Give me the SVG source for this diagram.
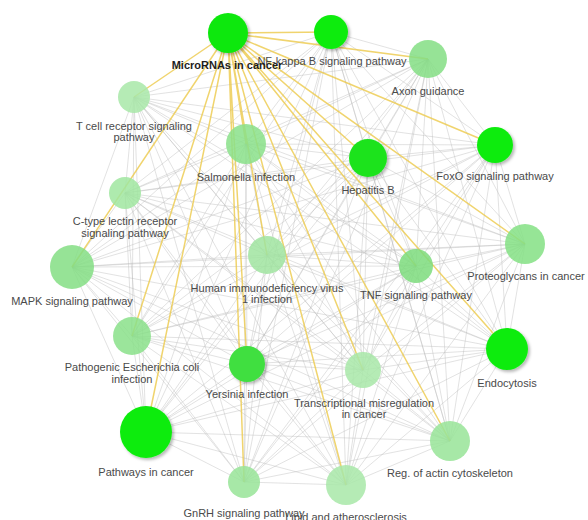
<svg xmlns="http://www.w3.org/2000/svg" width="588" height="520" viewBox="0 0 588 520">
<defs>
<filter id="sh" x="-30%" y="-30%" width="170%" height="170%"><feDropShadow dx="2" dy="2" stdDeviation="1.6" flood-color="#000" flood-opacity="0.28"/></filter>
</defs>
<style>
.g{fill:none;stroke:#bdbdbd;stroke-width:0.8;stroke-opacity:0.55}
.y{fill:none;stroke:#ecc94a;stroke-width:1.5;stroke-opacity:0.8}
.n{fill-opacity:0.85}
.b{filter:url(#sh)}
text{font-family:"Liberation Sans",Arial,sans-serif;font-size:11px;fill:#4a4a4a;text-anchor:middle}
.t{font-weight:bold;fill:#1e1e1e}
</style>
<rect width="588" height="520" fill="#fff"/>
<g id="connectors">
<path class="g" d="M331 32L428 59M331 32L134 97M331 32L246 144M331 32L368 158M331 32L495 145M331 32L125 193M331 32L72 267M331 32L267 255M331 32L416 266M331 32L525 244M331 32L132 336M331 32L247 364M331 32L363 370M331 32L507 349M331 32L146 432M331 32L450 441M331 32L244 482M331 32L346 485"/>
<path class="g" d="M428 59L134 97M428 59L246 144M428 59L368 158M428 59L495 145M428 59L125 193M428 59L72 267M428 59L267 255M428 59L416 266M428 59L525 244M428 59L132 336M428 59L247 364M428 59L363 370M428 59L507 349M428 59L146 432M428 59L450 441M428 59L244 482M428 59L346 485"/>
<path class="g" d="M134 97L246 144M134 97L368 158M134 97L495 145M134 97L125 193M134 97L72 267M134 97L267 255M134 97L416 266M134 97L525 244M134 97L132 336M134 97L247 364M134 97L363 370M134 97L507 349M134 97L146 432M134 97L450 441M134 97L244 482M134 97L346 485"/>
<path class="g" d="M246 144L368 158M246 144L495 145M246 144L125 193M246 144L72 267M246 144L267 255M246 144L416 266M246 144L525 244M246 144L132 336M246 144L247 364M246 144L363 370M246 144L507 349M246 144L146 432M246 144L450 441M246 144L244 482M246 144L346 485"/>
<path class="g" d="M368 158L495 145M368 158L125 193M368 158L72 267M368 158L267 255M368 158L416 266M368 158L525 244M368 158L132 336M368 158L247 364M368 158L363 370M368 158L507 349M368 158L146 432M368 158L450 441M368 158L244 482M368 158L346 485"/>
<path class="g" d="M495 145L125 193M495 145L72 267M495 145L267 255M495 145L416 266M495 145L525 244M495 145L132 336M495 145L247 364M495 145L363 370M495 145L507 349M495 145L146 432M495 145L450 441M495 145L244 482M495 145L346 485"/>
<path class="g" d="M125 193L72 267M125 193L267 255M125 193L416 266M125 193L525 244M125 193L132 336M125 193L247 364M125 193L363 370M125 193L507 349M125 193L146 432M125 193L450 441M125 193L244 482M125 193L346 485"/>
<path class="g" d="M72 267L267 255M72 267L416 266M72 267L525 244M72 267L132 336M72 267L247 364M72 267L363 370M72 267L507 349M72 267L146 432M72 267L450 441M72 267L244 482M72 267L346 485"/>
<path class="g" d="M267 255L416 266M267 255L525 244M267 255L132 336M267 255L247 364M267 255L363 370M267 255L507 349M267 255L146 432M267 255L450 441M267 255L244 482M267 255L346 485"/>
<path class="g" d="M416 266L525 244M416 266L132 336M416 266L247 364M416 266L363 370M416 266L507 349M416 266L146 432M416 266L450 441M416 266L244 482M416 266L346 485"/>
<path class="g" d="M525 244L132 336M525 244L247 364M525 244L363 370M525 244L507 349M525 244L146 432M525 244L450 441M525 244L244 482M525 244L346 485"/>
<path class="g" d="M132 336L247 364M132 336L363 370M132 336L507 349M132 336L146 432M132 336L450 441M132 336L244 482M132 336L346 485"/>
<path class="g" d="M247 364L363 370M247 364L507 349M247 364L146 432M247 364L450 441M247 364L244 482M247 364L346 485"/>
<path class="g" d="M363 370L507 349M363 370L146 432M363 370L450 441M363 370L244 482M363 370L346 485"/>
<path class="g" d="M507 349L146 432M507 349L450 441M507 349L244 482M507 349L346 485"/>
<path class="g" d="M146 432L450 441M146 432L244 482M146 432L346 485M450 441L244 482M450 441L346 485M244 482L346 485"/>
<path class="y" d="M228 33L331 32M228 33L428 59M228 33L134 97M228 33L246 144M228 33L368 158M228 33L495 145M228 33L72 267M228 33L267 255M228 33L416 266M228 33L525 244M228 33L132 336M228 33L247 364M228 33L363 370M228 33L507 349M228 33L146 432M228 33L450 441M228 33L244 482M228 33L346 485"/>
</g>
<g id="n-axon"><circle class="n" cx="428" cy="59" r="19" fill="#84de84"/><text x="428" y="95">Axon guidance</text></g>
<g id="n-tcell"><circle class="n" cx="134" cy="97" r="16" fill="#a8e8a8"/><text x="134" y="130">T cell receptor signaling</text><text x="134" y="141">pathway</text></g>
<g id="n-salmonella"><circle class="n" cx="246" cy="144" r="20" fill="#8ae08a"/><text x="246" y="181">Salmonella infection</text></g>
<g id="n-hepb"><circle class="b" cx="368" cy="158" r="19" fill="#1fe31f"/><text x="368" y="194">Hepatitis B</text></g>
<g id="n-foxo"><circle class="b" cx="495" cy="145" r="18" fill="#10ec10"/><text x="495" y="180">FoxO signaling pathway</text></g>
<g id="n-ctype"><circle class="n" cx="125" cy="193" r="16" fill="#a0e6a0"/><text x="125" y="225">C-type lectin receptor</text><text x="125" y="237">signaling pathway</text></g>
<g id="n-mapk"><circle class="n" cx="72" cy="267" r="22" fill="#84de84"/><text x="72" y="305">MAPK signaling pathway</text></g>
<g id="n-hiv"><circle class="n" cx="267" cy="255" r="19" fill="#a0e4a0"/><text x="267" y="292">Human immunodeficiency virus</text><text x="267" y="303">1 infection</text></g>
<g id="n-tnf"><circle class="n" cx="416" cy="266" r="17" fill="#7cdc7c"/><text x="416" y="299">TNF signaling pathway</text></g>
<g id="n-proteo"><circle class="n" cx="525" cy="244" r="20" fill="#84e084"/><text x="526" y="280">Proteoglycans in cancer</text></g>
<g id="n-patho"><circle class="n" cx="132" cy="336" r="19" fill="#8ae08a"/><text x="132" y="371">Pathogenic Escherichia coli</text><text x="132" y="383">infection</text></g>
<g id="n-yersinia"><circle class="b" cx="247" cy="364" r="18" fill="#3fdf3f"/><text x="247" y="398">Yersinia infection</text></g>
<g id="n-trans"><circle class="n" cx="363" cy="370" r="18" fill="#a8e8a8"/><text x="364" y="407">Transcriptional misregulation</text><text x="364" y="418">in cancer</text></g>
<g id="n-endo"><circle class="b" cx="507" cy="349" r="21" fill="#10ec10"/><text x="507" y="387">Endocytosis</text></g>
<g id="n-pathways"><circle class="b" cx="146" cy="432" r="26" fill="#10ec10"/><text x="146" y="476">Pathways in cancer</text></g>
<g id="n-actin"><circle class="n" cx="450" cy="441" r="20" fill="#98e498"/><text x="450" y="477">Reg. of actin cytoskeleton</text></g>
<g id="n-gnrh"><circle class="n" cx="244" cy="482" r="16" fill="#98e498"/><text x="244" y="517">GnRH signaling pathway</text></g>
<g id="n-lipid"><circle class="n" cx="346" cy="485" r="20" fill="#a8e8a8"/><text x="346" y="521">Lipid and atherosclerosis</text></g>
<g id="n-nfkb"><circle class="b" cx="331" cy="32" r="17" fill="#10ec10"/><text x="332" y="65">NF-kappa B signaling pathway</text></g>
<g id="n-mirna"><circle class="b" cx="228" cy="33" r="20" fill="#0ce80c"/><text class="t" x="227" y="69">MicroRNAs in cancer</text></g>
</svg>
